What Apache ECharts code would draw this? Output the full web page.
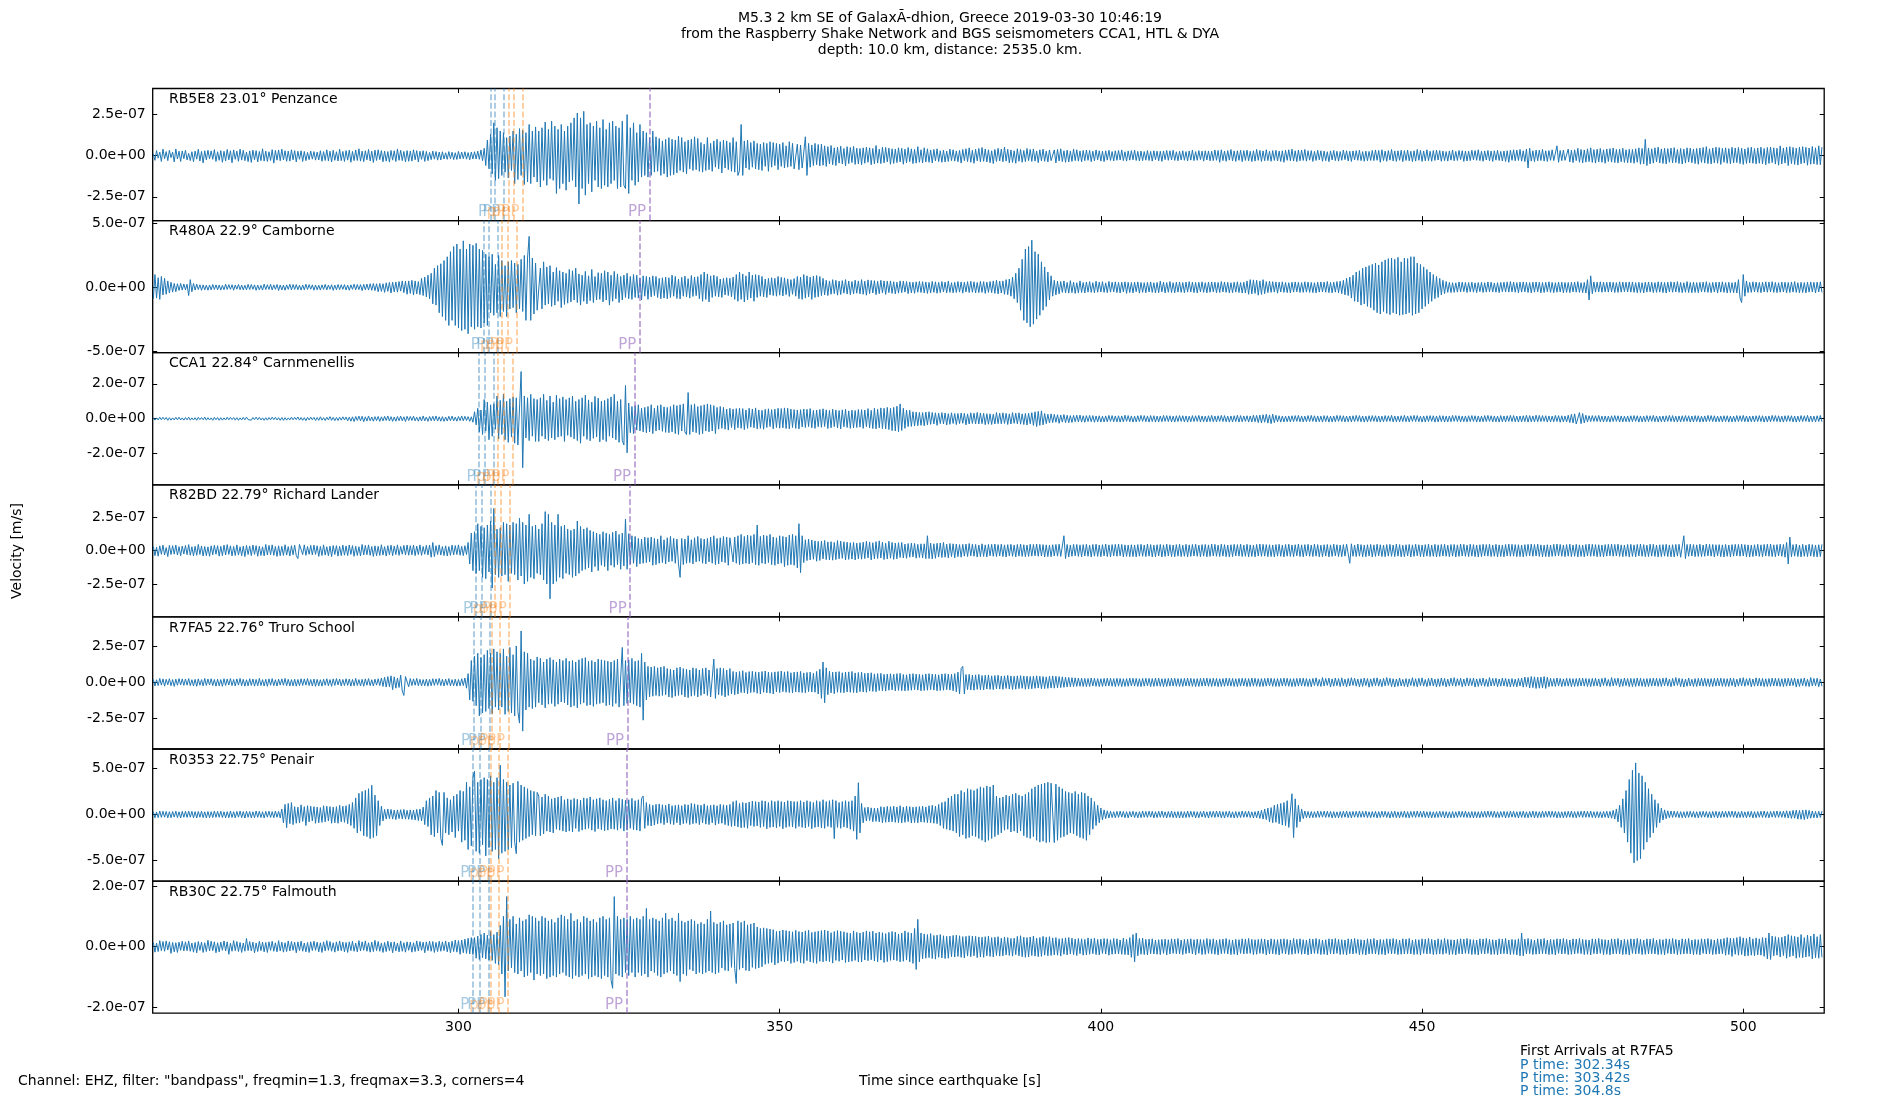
<!DOCTYPE html>
<html>
<head>
<meta charset="utf-8">
<script src="https://cdn.jsdelivr.net/npm/echarts@6/dist/echarts.min.js"></script>
<style>
  html, body { margin: 0; padding: 0; background: #fff; }
  #chart { width: 1900px; height: 1100px; }
</style>
</head>
<body>
<div id="chart"></div>
<script>
// station labels, top to bottom
const stations = [
  'RB5E8 23.01° Penzance',
  'R480A 22.9° Camborne',
  'CCA1 22.84° Carnmenellis',
  'R82BD 22.79° Richard Lander',
  'R7FA5 22.76° Truro School',
  'R0353 22.75° Penair',
  'RB30C 22.75° Falmouth',
];

// time axis
const X_MIN = 252.4, X_MAX = 512.6;
const X_TICKS = [300, 350, 400, 450, 500];
const T0 = 252.5, DT = 0.25;  // sample times of the traces below
const NM = 1e-9;              // traces are typed in nm/s

// y range and tick marks of each panel (m/s)
const yRanges = [
  [-3.95e-7, 4.09e-7],
  [-5.14e-7, 5.24e-7],
  [-3.78e-7, 3.78e-7],
  [-4.95e-7, 4.9e-7],
  [-4.58e-7, 4.5e-7],
  [-7.23e-7, 7.11e-7],
  [-2.19e-7, 2.16e-7],
];
const yTicks = [
  [-2.5e-7, 0, 2.5e-7],
  [-5e-7, 0, 5e-7],
  [-2e-7, 0, 2e-7],
  [-2.5e-7, 0, 2.5e-7],
  [-2.5e-7, 0, 2.5e-7],
  [-5e-7, 0, 5e-7],
  [-2e-7, 0, 2e-7],
];

// phase arrivals [s]
const pArrivals = [
  [304.98, 305.70, 307.07],
  [303.87, 304.72, 306.05],
  [303.22, 304.12, 305.52],
  [302.67, 303.66, 305.07],
  [302.34, 303.42, 304.80],
  [302.23, 303.33, 304.71],
  [302.23, 303.33, 304.71],
];
const pPArrivals = [
  [307.85, 308.57, 310.06],
  [306.80, 307.70, 309.05],
  [306.15, 307.10, 308.50],
  [305.60, 306.65, 308.05],
  [305.20, 306.39, 307.79],
  [305.10, 306.30, 307.70],
  [305.10, 306.30, 307.70],
];
const ppArrivals = [329.74, 328.24, 327.41, 326.73, 326.32, 326.18, 326.18];

const firstArrivals = ['P time: 302.34s', 'P time: 303.42s', 'P time: 304.8s'];

// velocity traces, nm/s, one value every 0.25 s, two lines = 10 s
const traceRB5E8 = [
  12,-28,31,-15,22,-35,40,-18,25,-30,33,-12,22,-38,41,-20,27,-35,29,-18,
  33,-26,14,-30,24,-36,28,-21,39,-32,26,-44,30,-25,33,-19,29,-22,37,-35,
  24,-28,31,-40,27,-32,38,-25,30,-43,35,-22,28,-34,40,-27,33,-30,22,-36,
  29,-41,34,-25,31,-38,26,-30,42,-33,28,-35,24,-29,37,-45,32,-27,35,-31,
  40,-26,30,-34,28,-33,36,-25,31,-38,27,-22,30,-35,26,-30,20,-24,28,-21,
  25,-27,22,-26,30,-34,25,-29,36,-31,27,-38,33,-28,24,-32,39,-30,26,-35,
  31,-27,34,-40,26,-30,35,-29,42,-33,28,-36,30,-25,38,-32,27,-41,34,-29,
  36,-24,31,-37,28,-33,25,-39,32,-27,30,-35,41,-28,33,-30,26,-38,31,-34,
  28,-33,36,-25,31,-38,27,-22,30,-35,26,-30,20,-24,28,-21,25,-27,22,-26,
  24,-20,18,-22,25,-19,21,-24,18,-23,26,-20,22,-18,24,-21,19,-25,22,-20,
  24,-20,28,-22,35,-30,45,-60,95,-80,130,-110,200,-150,170,-140,150,-120,140,-100,
  110,-135,120,-90,150,-170,130,-145,165,-120,155,-175,140,-160,190,-170,150,-130,175,-160,
  150,-190,170,-150,205,-180,160,-140,210,-150,180,-230,160,-200,190,-170,150,-210,180,-160,
  200,-150,230,-190,260,-294,230,-200,270,-240,190,-170,200,-220,180,-150,210,-190,170,-200,
  220,-180,160,-190,200,-170,210,-150,180,-200,170,-190,210,-180,-200,250,-230,170,-150,200,
  -180,140,-160,190,-130,150,-120,140,-130,110,-120,150,-100,115,-95,105,-120,90,-110,100,
  -130,110,-120,100,-115,95,-105,120,-90,110,-100,85,-110,95,-80,100,-90,115,-85,105,
  -95,80,-100,70,-90,110,-85,75,-95,90,-70,100,-80,85,-105,95,-75,90,-85,80,
  -95,110,-100,85,-120,-90,190,-120,90,-75,95,-85,80,-70,90,-80,75,-85,70,-90,
  80,-65,75,-95,85,-70,80,-60,75,-85,70,-65,80,-75,60,-70,85,-65,75,-80,
  -80,70,-85,65,-75,-80,115,-120,75,-70,65,-60,75,-55,68,-62,70,-58,60,-65,
  55,-50,62,-55,48,-60,52,-45,58,-50,44,-62,55,-48,50,-42,57,-53,46,-50,
  44,-55,48,-46,52,-40,48,-55,44,-50,62,-45,40,-48,52,-44,50,-38,46,-52,
  42,-47,40,-42,48,-38,45,-52,40,-44,50,-36,42,-48,38,-45,55,-40,36,-44,
  48,-38,42,-40,35,-44,38,-32,42,-36,30,-40,34,-38,28,-35,40,-30,36,-33,
  29,-37,32,-45,38,-30,42,-36,48,-40,33,-46,39,-31,44,-37,50,-34,41,-38,
  36,-43,30,-48,38,-35,45,-32,40,-37,52,-33,39,-44,35,-41,30,-46,42,-34,
  38,-40,32,-36,44,-30,38,-35,41,-33,29,-42,36,-31,40,-34,28,-38,35,-30,
  -40,35,-44,38,-32,42,-36,30,-40,34,-38,28,-35,40,-30,36,-33,29,-37,32,
  -30,34,-28,32,-36,27,-31,35,-25,30,-33,28,-36,30,-27,33,-29,25,-32,30,
  -28,32,-26,35,-30,24,-33,29,-27,31,-25,34,-29,26,-32,28,-30,25,-27,31,
  -29,26,-33,30,-25,28,-31,27,-35,29,-24,32,-28,30,-26,33,-29,24,-31,27,
  -26,30,-28,25,-32,29,-27,34,-30,25,-28,31,-24,28,-33,30,-26,29,-31,27,
  -30,35,-28,32,-40,36,-30,28,-34,31,-27,38,-32,29,-35,30,-28,33,-36,31,
  -29,34,-31,27,-36,30,-33,38,-28,32,-35,29,-31,36,-30,27,-34,31,-29,33,
  -32,28,-35,30,-40,33,-28,36,-31,40,-33,30,-36,34,-31,34,-29,38,-33,30,
  -27,31,-35,26,-29,33,-25,30,-34,28,-31,24,-36,29,-26,32,-30,27,-33,25,
  -28,34,-24,30,-32,27,-35,29,-26,31,-28,33,-30,25,-34,28,-31,26,-29,32,
  -30,35,-28,32,-40,36,-30,28,-34,31,-27,38,-32,29,-35,30,-28,33,-36,31,
  -29,34,-31,27,-36,30,-33,38,-28,32,-35,29,-31,36,-30,27,-34,31,-29,33,
  -26,31,-34,28,-30,25,-33,29,-27,35,-31,26,-29,32,-24,30,-35,28,-32,27,
  -30,33,-25,31,-28,36,-30,27,-34,29,-26,32,-31,28,-35,30,-27,33,-29,26,
  -32,28,-35,30,-40,33,-28,36,-31,34,-29,38,-33,30,-36,40,-75,45,-33,30,
  -36,34,-31,34,-29,38,-33,30,-35,31,-28,36,-30,-33,60,-40,32,-30,34,-28,
  -35,40,-38,33,-42,36,-30,45,-40,38,-44,35,-39,42,-36,48,-41,37,-45,40,
  -38,44,-40,36,-46,41,-35,43,-39,47,-42,38,-44,40,-37,45,-41,36,-43,39,
  -43,38,-46,42,-40,48,-52,44,-50,100,-60,47,-50,42,-45,48,-38,52,-44,41,
  -47,45,-50,43,-40,46,-44,49,-42,38,-47,44,-51,40,-45,48,-39,46,-43,41,
  -48,44,-52,46,-41,50,-45,55,-48,42,-50,47,-44,52,-46,49,-53,45,-40,48,
  -46,43,-49,51,-44,47,-42,50,-48,45,-53,41,-47,49,-44,52,-46,43,-50,47,
  -46,52,-49,44,-55,50,-47,53,-42,48,-51,45,-58,60,-50,47,-45,52,-60,55,
  -48,50,-53,46,-57,52,-49,55,-45,51,-58,47,-52,56,-50,48,-54,60,-55,52,
];
const traceR480A = [
  -90,100,-85,75,-95,85,-60,70,-55,50,-45,40,-38,30,-35,28,-25,30,-22,26,
  -20,24,-65,60,-35,30,-22,25,-18,20,-24,19,-21,17,-23,18,-20,22,-17,19,
  -20,18,-22,15,-19,24,-17,21,-16,20,-23,18,-15,22,-19,17,-21,16,-20,23,
  -18,22,-16,19,-24,17,-20,15,-22,25,-18,20,-17,23,-21,19,-16,22,-25,18,
  -21,17,-23,19,-16,24,-20,22,-17,21,-19,16,-22,18,-20,24,-17,21,-15,19,
  -23,18,-20,16,-22,19,-17,23,-21,18,-16,20,-24,17,-19,22,-18,20,-16,21,
  -21,17,-23,19,-16,24,-20,22,-18,21,-26,23,-20,25,-22,28,-24,30,-26,28,
  -35,30,-32,28,-40,35,-32,38,-45,40,-36,42,-38,45,-30,50,-42,48,-55,50,
  -48,55,-60,50,-52,45,-58,70,-65,80,-75,95,-90,110,-130,150,-140,170,-200,185,
  -230,210,-260,240,-300,280,-260,320,-300,340,-320,300,-340,365,-330,300,-365,340,-310,330,
  -330,345,-310,300,-320,290,-280,260,-300,240,-200,260,-220,180,-200,250,-230,210,-190,170,
  -230,200,-170,210,-160,190,-200,180,-170,220,-190,250,-260,230,400,-260,230,-210,190,-180,
  -180,150,-170,200,-140,160,-130,170,-150,120,-140,155,-110,130,-160,120,-135,110,-125,140,
  -115,130,-100,150,-120,105,-140,95,-110,125,-130,90,-105,140,-120,85,-100,115,-95,110,
  -115,130,-100,120,-140,95,-110,125,-90,105,-120,85,-100,95,-80,110,-90,85,-95,100,
  -80,95,-85,75,-100,90,-70,85,-95,80,-75,90,-65,85,-80,70,-90,75,-85,80,
  -90,75,-80,95,-70,85,-88,65,-92,78,-70,88,-75,68,-85,92,-72,80,-66,84,
  -90,100,-110,120,-95,105,-115,90,-80,95,-70,85,-75,65,-80,70,-60,75,-65,70,
  -75,80,-95,100,-110,120,-95,105,-115,90,-100,120,-85,95,-110,100,-80,95,-70,85,
  -75,65,-80,70,-60,75,-65,70,-70,85,-62,78,-68,74,-58,66,-72,60,-55,68,
  -70,85,-90,80,-95,100,-85,90,-75,80,-95,88,-80,92,-75,85,-65,70,-60,55,
  -65,50,-55,60,-50,55,-62,48,-57,52,-46,60,-53,49,-58,45,-52,56,-47,50,
  -52,60,-55,48,-62,58,-50,54,-45,52,-58,47,-50,55,-44,50,-56,48,-42,50,
  -48,44,-52,40,-46,50,-42,48,-38,45,-50,42,-44,40,-47,43,-39,46,-41,44,
  -45,42,-48,38,-44,46,-40,43,-47,39,-42,45,-37,41,-44,48,-40,36,-43,39,
  -41,45,-38,42,-46,40,-37,44,-41,47,-39,43,-45,38,-42,46,-40,44,-48,41,
  -40,45,-42,50,-48,55,-52,48,-45,50,-55,60,-58,65,-70,80,-90,110,-120,150,
  -180,220,-260,300,-280,320,-310,370,-290,280,-250,260,-220,200,-180,160,-150,120,-100,90,
  -70,55,-60,48,-52,45,-40,50,-44,38,-46,52,-42,40,-48,36,-44,50,-41,38,
  -45,42,-38,45,-40,36,-43,48,-39,41,-37,44,-40,35,-42,46,-38,40,-36,43,
  -42,38,-45,40,-36,43,-48,39,-41,37,-44,40,-35,42,-46,38,-40,36,-43,39,
  -37,42,-40,35,-45,38,-42,48,-36,40,-44,37,-39,45,-41,36,-43,40,-38,42,
  -40,37,-43,41,-38,44,-36,40,-42,38,-45,39,-37,43,-40,36,-44,41,-39,42,
  -36,40,-43,38,-41,45,-37,42,-40,39,-44,36,-42,40,-38,43,-41,37,-45,40,
  -45,50,-55,60,-52,58,-48,55,-62,50,-56,60,-50,45,-42,48,-40,44,-38,42,
  -46,40,-37,43,-40,38,-42,36,-44,40,-38,42,-36,39,-41,37,-40,43,-38,41,
  -40,38,-42,36,-44,40,-38,42,-37,41,-39,45,-42,38,-44,40,-38,45,-43,48,
  -50,55,-60,70,-65,80,-85,95,-110,120,-115,130,-140,150,-130,160,-150,170,-160,180,
  -180,190,-200,175,-210,200,-190,215,-205,225,-215,230,-200,220,-210,235,-220,200,-215,230,
  -210,225,-200,240,-220,240,-210,190,-200,180,-170,160,-150,140,-130,120,-110,100,-90,85,
  -80,70,-60,55,-50,45,-40,38,-42,36,-40,35,-38,42,-36,40,-34,38,-41,37,
  -36,40,-38,35,-42,37,-34,39,-41,36,-38,42,-35,40,-37,34,-39,36,-42,38,
  -35,40,-37,42,-38,45,-36,41,-39,37,-43,40,-38,42,-36,39,-41,37,-44,40,
  -38,42,-36,40,-44,37,-41,39,-35,43,-40,38,-42,36,-39,41,-37,40,-43,38,
  -40,37,-42,39,-36,41,-38,44,-40,36,-42,38,-45,60,-100,90,-50,42,-38,40,
  -37,43,-39,41,-36,40,-38,42,-36,39,-41,37,-40,43,-38,41,-35,40,-37,42,
  -38,42,-40,37,-43,39,-41,36,-44,40,-38,42,-36,39,-41,37,-40,43,-38,41,
  -42,38,-45,40,-36,43,-39,41,-37,44,-40,38,-42,36,-39,45,-41,37,-43,40,
  -40,37,-42,39,-36,41,-38,44,-40,36,-42,38,-37,40,-45,41,-38,43,-40,37,
  -44,39,-41,36,-43,40,-45,60,-85,-120,100,-70,50,-42,38,-40,43,-37,41,-39,
  38,-42,40,-37,43,-39,41,-36,44,-40,38,-42,36,-39,41,-37,40,-43,38,-41,
  42,-38,45,-40,36,-43,39,-41,37,-44,40,-38,42,-36,39,-45,41,-37,43,-40,
];
const traceCCA1 = [
  6,-8,5,-7,9,-6,8,-5,7,-9,6,-8,5,-7,8,-6,9,-7,5,-8,
  7,-6,9,-8,5,-7,6,-9,8,-5,7,-6,9,-8,6,-7,5,-9,8,-6,
  7,-9,6,-8,5,-7,9,-6,8,-5,7,-8,6,-9,5,-7,8,-6,9,-5,
  6,-8,7,-5,9,-6,8,-7,5,-9,6,-8,7,-6,9,-5,8,-7,6,-9,
  7,-9,6,-8,5,-7,9,-6,8,-5,10,-8,7,-9,6,-11,8,-7,9,-6,
  8,-10,7,-9,11,-8,6,-10,9,-7,12,-9,8,-11,7,-10,9,-8,11,-7,
  10,-12,9,-14,11,-16,13,-10,15,-12,14,-17,11,-13,16,-12,10,-14,12,-11,
  13,-15,11,-12,14,-10,16,-13,12,-15,10,-14,13,-11,15,-12,11,-16,14,-10,
  13,-10,15,-12,9,-14,11,-13,16,-12,10,-15,13,-11,14,-12,16,-13,11,-14,
  12,-15,10,-13,14,-11,15,-12,10,-14,13,-11,16,-12,14,-10,12,-15,11,-20,
  40,-35,60,-75,50,-90,110,-70,95,-120,80,-100,85,-60,130,-115,105,-90,140,-120,
  100,-135,115,-105,125,-140,120,-150,-160,270,-280,130,-110,120,-125,140,-100,115,-130,110,
  -130,120,-100,140,-115,105,-125,130,-110,95,-120,135,-105,115,-100,125,-130,110,-95,120,
  -105,130,-115,100,-125,110,-140,120,-100,135,-118,108,-126,95,-112,128,-104,118,-132,100,
  -120,105,-130,115,-100,125,-110,140,-120,100,-135,110,-125,-150,190,-195,90,-80,70,-85,
  75,-65,80,-70,60,-75,65,-80,70,-75,80,-85,60,-70,75,-65,80,-72,68,-78,
  65,-80,70,-75,80,-85,75,-90,80,-70,85,-75,-90,150,-90,80,-75,85,-80,70,
  -90,75,-85,80,-70,85,-75,80,-70,75,-85,65,-60,70,-55,65,-60,55,-65,60,
  -50,55,-62,58,-52,60,-55,58,-62,50,-55,60,-48,56,-52,62,-58,50,-55,48,
  -60,54,-50,57,-45,52,-58,55,-50,60,-54,58,-52,62,-56,60,-58,55,-50,52,
  -55,50,-58,52,-47,56,-50,54,-45,58,-52,48,-55,50,-46,53,-49,57,-44,51,
  -56,48,-52,55,-45,50,-53,47,-58,51,-46,54,-50,45,-55,49,-52,47,-50,53,
  -48,52,-55,50,-45,58,-52,48,-56,60,-58,54,-52,62,-56,60,-58,65,-62,60,
  -68,65,-70,72,-74,85,-67,60,-55,50,-45,48,-44,40,-42,38,-40,36,-38,35,
  -40,38,-35,40,-32,36,-30,34,-38,32,-28,35,-30,33,-36,29,-32,34,-27,30,
  -33,30,-28,33,-26,31,-35,28,-30,34,-27,32,-29,36,-30,33,-28,31,-34,29,
  -31,28,-33,26,-30,35,-28,32,-29,34,-27,31,-33,28,-30,35,-26,32,-29,34,
  -31,28,-33,30,-36,32,-29,35,-38,40,-45,42,-38,45,-35,30,-28,26,-24,28,
  -22,25,-20,23,-26,21,-19,24,-22,20,-23,18,-21,19,-17,20,-18,21,-19,17,
  -20,18,-16,19,-17,18,-20,16,-18,17,-19,15,-18,16,-17,19,-15,18,-17,16,
  -18,17,-19,16,-18,20,-15,18,-17,16,-19,15,-18,17,-16,19,-15,18,-17,16,
  -19,18,-16,17,-19,15,-18,16,-17,19,-15,18,-16,17,-18,15,-19,17,-16,18,
  -15,17,-18,16,-19,15,-17,18,-16,17,-15,19,-18,16,-17,15,-18,17,-16,19,
  -17,16,-18,17,-15,19,-16,18,-17,15,-19,16,-18,17,-16,20,-19,18,-17,16,
  -15,17,-19,16,-18,20,-17,19,-22,21,-24,23,-20,26,-25,22,-28,26,-22,20,
  -18,17,-19,16,-18,15,-17,16,-18,17,-16,18,-15,19,-17,16,-18,15,-17,18,
  -16,19,-15,17,-18,16,-17,15,-19,18,-16,17,-19,15,-18,16,-17,19,-15,18,
  -16,17,-18,15,-17,16,-18,17,-16,19,-15,18,-17,16,-19,15,-18,17,-16,18,
  -15,17,-18,16,-19,15,-17,18,-16,17,-15,19,-18,16,-17,15,-18,17,-16,19,
  -17,16,-18,17,-15,19,-16,18,-17,15,-19,16,-18,17,-16,18,-15,17,-19,16,
  -18,18,-16,17,-19,15,-18,16,-17,19,-15,18,-16,17,-18,15,-17,16,-18,17,
  -16,18,-15,17,-19,16,-18,15,-17,18,-16,19,-15,17,-18,16,-17,15,-19,18,
  -17,16,-18,17,-15,19,-16,18,-17,15,-19,16,-18,17,-16,20,-19,18,-17,16,
  -18,20,-17,19,-16,18,-15,17,-19,16,-18,15,-17,19,-16,18,-20,17,-18,16,
  -18,20,-22,25,-24,28,-30,-32,35,-28,30,-24,20,-18,17,-16,18,-15,17,-16,
  19,-17,15,-18,16,-17,15,-19,17,-16,18,-15,17,-19,16,-18,15,-17,16,-18,
  17,-16,18,-15,17,-19,16,-18,15,-17,18,-16,17,-15,19,-17,16,-18,15,-17,
  16,-18,17,-15,19,-16,18,-17,15,-19,16,-18,17,-16,18,-15,17,-19,16,-18,
  18,-16,17,-19,15,-18,16,-17,19,-15,18,-16,17,-18,15,-17,16,-18,17,-16,
  17,-19,16,-18,15,-17,18,-16,17,-15,19,-17,16,-18,15,-17,16,-18,17,-16,
  18,-16,17,-19,15,-18,16,-17,19,-15,18,-16,17,-18,15,-19,17,-16,18,-15,
  17,-18,16,-19,15,-17,18,-16,17,-15,19,-18,16,-17,15,-18,17,-16,19,-17,
];
const traceR82BD = [
  30,-38,25,-42,35,-28,40,-33,22,-45,38,-30,36,-27,41,-34,29,-39,33,-26,
  37,-31,44,-35,28,-40,32,-36,45,-29,34,-41,30,-38,27,-43,35,-32,39,-28,
  36,-42,31,-38,40,-33,44,-29,35,-40,30,-37,42,-34,28,-39,33,-45,37,-30,
  34,-38,41,-29,36,-43,32,-37,28,-40,45,-33,38,-31,42,-36,30,-44,35,-39,
  31,-37,43,-34,29,-41,36,-32,40,-38,-60,45,33,-30,42,-36,30,-28,38,-33,
  40,-29,35,-44,30,-37,42,-34,28,-39,33,-45,37,-30,36,-42,31,-38,40,-35,
  34,-38,41,-29,36,-43,32,-37,28,-40,45,-33,38,-31,42,-36,30,-44,35,-39,
  31,-37,43,-34,29,-41,36,-32,40,-38,33,-30,42,-36,30,-28,38,-33,41,-35,
  36,-32,40,-38,33,-30,42,-36,30,-28,38,-33,41,-50,60,-45,36,-30,42,-34,
  30,-38,35,-41,29,-36,40,-33,37,-30,42,-35,31,-38,36,-30,60,-100,130,-150,
  140,-170,200,-150,180,-200,170,-210,190,-160,220,-280,313,-180,160,-200,170,-190,210,-180,
  200,-230,190,-170,210,-180,200,-220,240,-190,210,-250,190,-230,270,-200,180,-210,190,-170,
  160,-180,200,-220,290,-250,270,-360,210,-250,190,-230,270,-200,180,-210,190,-170,160,-180,
  150,-200,160,-190,220,-170,180,-150,160,-140,170,-130,150,-160,140,-120,130,-150,120,-110,
  140,-120,130,-150,120,-110,135,-125,145,-105,120,-140,130,-115,235,-140,125,-100,110,-95,
  105,-120,90,-100,85,-95,100,-90,95,-85,100,-110,90,-105,85,-95,110,-90,80,-100,
  95,-85,105,-80,90,-95,85,-100,-200,90,-105,85,-95,110,-90,80,-100,95,-85,105,
  -80,90,-95,85,-100,90,-85,100,-95,110,-105,90,-100,95,-85,105,-90,100,-110,95,
  90,-85,100,-95,110,-105,120,-100,105,-95,115,-100,110,-90,120,-105,190,-110,105,-95,
  115,-100,110,-90,120,-105,100,-110,95,-100,110,-95,105,-120,100,-110,115,-105,120,-110,
  110,-130,200,-165,110,-90,80,-75,85,-70,78,-65,72,-80,68,-74,70,-62,75,-68,
  64,-70,66,-72,60,-68,74,-62,70,-58,65,-70,62,-66,58,-64,60,-70,55,-62,
  58,-65,62,-60,68,-55,64,-70,58,-62,66,-59,72,-56,61,-67,54,-63,69,-57,
  60,-66,55,-62,58,-52,60,-55,48,-58,52,-50,55,-48,53,-57,46,-52,50,-55,
  50,-60,110,-60,55,-62,50,-58,54,-48,56,-52,60,-50,47,-55,52,-45,50,-54,
  48,-46,44,-50,46,-42,48,-45,52,-40,47,-43,45,-49,41,-46,50,-44,42,-48,
  45,-40,46,-43,48,-45,44,-41,47,-45,42,-48,44,-40,46,-43,41,-47,45,-42,
  48,-44,43,-46,41,-44,47,-42,45,-40,48,-43,46,-41,44,-47,42,-45,40,-46,
  43,-41,45,-42,47,-44,-48,110,-60,45,-48,41,-43,46,-40,45,-44,42,-47,44,
  -41,46,-43,40,-48,45,-42,47,-44,41,-46,43,-40,48,-45,42,-47,44,-41,46,
  -43,48,-40,45,-47,42,-44,41,-46,43,-45,40,-47,44,-42,46,-43,41,-45,48,
  -42,44,-47,40,-46,43,-41,45,-48,42,-44,47,-40,43,-45,41,-46,44,-42,47,
  -45,40,-43,46,-48,42,-44,45,-41,47,-43,40,-46,44,-42,45,-47,42,-44,48,
  -41,46,-43,40,-45,47,-42,44,-46,41,-48,43,-45,46,-40,44,-42,47,-45,41,
  -43,46,-48,42,-44,40,-47,45,-41,48,-43,46,-42,44,-46,43,-45,41,-47,44,
  -42,46,-43,40,-48,45,-42,47,-44,41,-46,43,-40,48,-45,42,-47,44,-41,46,
  -43,41,-45,48,-42,44,-47,40,-46,43,-41,45,-48,42,-44,47,-40,43,-45,41,
  -46,44,-42,47,60,-95,50,-43,41,-45,48,-42,44,-47,40,-46,43,-41,45,-48,
  42,-44,47,-40,43,-45,41,-46,44,-42,46,-43,41,-45,48,-42,44,-47,40,-46,
  43,-41,45,-48,42,-44,47,-40,43,-45,41,-46,44,-42,47,-45,40,-43,46,-48,
  42,-44,45,-41,47,-43,40,-46,44,-42,45,-47,42,-44,48,-41,46,-43,40,-45,
  47,-42,44,-46,41,-48,43,-45,46,-40,44,-42,47,-45,41,-43,46,-48,42,-44,
  40,-47,45,-41,48,-43,46,-42,44,-46,43,-45,41,-47,44,-42,46,-40,48,-43,
  45,-41,47,-44,42,-46,40,-45,43,-47,41,-44,46,-42,48,-40,45,-43,41,-46,
  44,-42,47,-45,41,-43,46,-48,42,-44,40,-47,45,-41,48,-43,46,-42,44,-46,
  43,-45,41,-47,44,-42,46,-40,48,-43,45,-41,47,-44,42,-46,41,-43,45,-48,
  46,-44,42,-47,45,-41,48,-43,44,-46,40,-45,47,-42,46,-44,41,-48,43,-45,
  44,-42,46,-45,41,-47,43,-48,45,-42,46,-50,-60,110,-60,45,-43,47,-41,44,
  -46,42,-44,47,-45,41,-43,48,-40,46,-42,45,-47,43,-41,44,-46,42,-48,45,
  -43,41,-47,44,-42,46,-40,45,-43,47,-41,44,-46,42,-48,40,-45,43,-41,46,
  -44,42,-46,45,-41,47,-43,48,-45,42,-46,44,-40,47,-43,45,-50,60,-100,100,
  -46,44,-42,47,-45,41,-48,46,-43,40,-45,47,-42,44,-46,41,-48,43,-45,46,
];
const traceR7FA5 = [
  20,-25,18,-22,27,-19,24,-26,21,-17,25,-23,19,-28,22,-20,26,-18,24,-21,
  23,-19,26,-22,18,-25,21,-27,24,-20,19,-24,27,-21,23,-18,25,-22,20,-26,
  22,-24,19,-27,25,-21,23,-18,26,-22,20,-25,24,-19,27,-23,21,-26,18,-24,
  25,-21,23,-26,20,-24,27,-22,19,-25,21,-27,24,-20,26,-23,18,-25,22,-19,
  24,-20,27,-23,21,-25,19,-24,22,-26,20,-23,25,-21,24,-19,26,-22,20,-25,
  23,-27,21,-24,18,-26,22,-20,25,-23,19,-27,24,-21,26,-18,23,-25,20,-22,
  25,-21,23,-26,20,-24,27,-22,19,-25,21,-27,24,-20,26,-23,18,-25,22,-19,
  25,-22,30,-28,35,-32,40,-30,45,-50,38,-40,30,-35,50,-60,-90,40,35,-30,
  26,-22,24,-20,27,-23,21,-25,19,-24,22,-26,20,-23,25,-21,24,-19,27,-22,
  21,-25,23,-20,26,-24,19,-23,22,-26,20,-24,25,-22,30,-40,60,-120,150,-130,
  180,-160,200,-230,170,-210,190,-200,220,-180,200,-215,230,-170,210,-190,200,-170,230,-220,
  180,-200,240,-210,190,-230,250,-200,-280,353,-335,210,-190,200,-170,160,-180,150,-170,175,
  -140,165,-155,140,-175,160,-150,170,-145,155,-165,140,-150,160,-135,150,-140,165,-155,145,
  -170,150,-160,140,-175,155,-150,165,-140,170,-160,145,-155,150,-165,140,-150,160,-145,155,
  -140,150,-160,145,-155,140,-165,150,-145,160,-170,-180,240,-160,150,-145,155,-140,165,-150,
  145,-160,150,-170,200,-260,140,-120,110,-100,105,-95,110,-90,100,-95,105,-90,110,-85,
  95,-100,90,-105,85,-95,100,-90,105,-85,95,-100,90,-105,85,-95,100,-90,95,-100,
  85,-90,95,-80,100,-90,85,-100,-110,160,-110,95,-85,100,-90,95,-100,85,-90,95,
  -80,75,-85,70,-80,75,-70,80,-72,68,-78,74,-70,76,-68,72,-75,70,-80,74,
  -68,78,-72,70,-75,68,-80,72,-66,74,-70,78,-64,72,-68,75,-70,66,-72,70,
  -66,72,-68,75,-70,65,-72,68,-64,70,-66,62,-68,75,-80,90,-110,140,-140,100,
  -85,76,-72,70,-78,72,-68,74,-70,66,-72,70,-66,72,-68,75,-70,65,-72,68,
  -64,70,-66,62,-68,64,-60,66,-62,58,-64,60,-56,62,-58,55,-60,57,-54,59,
  -52,56,-58,60,-55,62,-57,54,-59,52,-56,58,-54,60,-50,57,-53,55,-58,52,
  -56,58,-54,60,-50,57,-53,55,-58,52,-56,58,-54,60,-50,57,-53,55,-58,60,
  -65,70,-80,95,110,-80,54,-50,55,-52,50,-54,52,-48,54,-50,47,-52,49,-46,
  51,-48,45,-50,47,-44,49,-46,43,-48,45,-42,48,-46,44,-49,42,-47,45,-43,
  46,-41,44,-47,42,-45,40,-44,43,-41,45,-39,42,-44,40,-43,38,-41,42,-39,
  44,-40,42,-38,40,-36,38,-34,36,-32,34,-30,32,-29,31,-28,30,-27,29,-28,
  27,-29,26,-28,30,-25,28,-27,26,-29,25,-28,27,-26,29,-25,28,-27,26,-29,
  28,-26,27,-29,25,-28,26,-27,29,-25,28,-26,27,-28,25,-29,27,-26,28,-25,
  27,-29,26,-28,30,-26,28,-27,25,-29,26,-28,27,-26,29,-25,28,-27,26,-28,
  26,-28,27,-25,29,-26,28,-27,25,-29,26,-28,27,-26,28,-25,29,-27,26,-28,
  28,-26,27,-29,25,-28,26,-27,29,-25,28,-26,27,-28,25,-29,27,-26,28,-25,
  27,-29,26,-28,30,-26,28,-27,25,-29,26,-28,27,-26,29,-25,28,-27,26,-28,
  26,-28,27,-25,29,-26,28,-27,25,-29,26,-28,27,-26,28,-25,29,-27,26,-28,
  24,-30,27,-22,31,-26,20,-28,33,-25,27,-21,29,-32,24,-27,30,-23,26,-29,
  31,-24,22,-30,27,-25,32,-21,28,-26,23,-31,25,-28,30,-22,26,-33,24,-27,
  29,-23,31,-26,22,-30,27,-24,33,-21,28,-29,25,-32,23,-27,30,-25,21,-28,
  26,-31,24,-22,32,-27,25,-30,28,-23,31,-26,20,-29,27,-24,30,-25,22,-31,
  25,-28,30,-23,27,-31,22,-26,29,-24,32,-27,25,-21,28,-30,23,-26,31,-25,
  27,-22,29,-32,24,-28,26,-23,30,-27,21,-29,33,-25,27,-24,28,-30,23,-26,
  30,-25,27,-29,24,-31,26,-28,22,-30,27,-25,29,-33,36,-30,34,-38,40,-36,
  38,-42,35,-40,36,-38,40,-42,35,-30,28,-27,26,-28,30,-25,27,-29,24,-26,
  28,-26,27,-29,25,-28,26,-27,29,-25,28,-26,27,-28,25,-29,27,-26,28,-25,
  24,-30,27,-22,31,-26,20,-28,33,-25,27,-21,29,-32,24,-27,30,-23,26,-29,
  27,-29,26,-28,30,-26,28,-27,25,-29,26,-28,27,-26,29,-25,28,-27,26,-28,
  29,-23,31,-26,22,-30,27,-24,33,-21,28,-29,25,-32,23,-27,30,-25,21,-28,
  26,-28,27,-25,29,-26,28,-27,25,-29,26,-28,27,-26,28,-25,29,-27,26,-28,
  25,-28,30,-23,27,-31,22,-26,29,-24,32,-27,25,-21,28,-30,23,-26,31,-25,
  28,-26,27,-29,25,-28,26,-27,29,-25,28,-26,27,-28,25,-29,27,-26,28,-25,
  27,-22,29,-32,24,-28,26,-23,30,-27,21,-29,33,-25,27,-24,28,-30,23,-26,
];
const traceR0353 = [
  30,-36,28,-34,38,-31,35,-29,33,-37,30,-35,32,-28,36,-33,29,-38,34,-30,
  35,-32,37,-29,34,-36,31,-38,33,-30,36,-34,29,-37,32,-35,30,-33,38,-31,
  34,-30,36,-33,29,-37,31,-35,38,-32,30,-36,33,-29,37,-34,31,-38,35,-30,
  32,-36,29,-34,37,-31,35,-33,30,-38,34,-29,36,-32,31,-35,38,-30,33,-37,
  60,-90,110,-143,120,-100,130,-110,85,-95,80,-90,105,-75,85,-120,95,-80,90,-70,
  85,-95,80,-90,75,-85,95,-80,90,-70,85,-95,80,-90,85,-95,100,-80,90,-85,
  95,-100,110,-120,130,-150,180,-200,230,-180,250,-230,262,-240,280,-262,317,-250,210,-230,
  150,-120,90,-70,55,-50,60,-45,55,-50,48,-55,50,-45,52,-48,55,-50,45,-52,
  50,-55,48,-60,55,-65,60,-70,80,-110,150,-130,180,-220,200,-240,260,-200,240,-260,
  -335,240,-200,180,-220,160,-190,200,-250,220,-180,260,-300,250,-280,350,-380,300,-340,400,
  470,-400,350,-420,380,-330,400,-450,380,-360,420,-400,350,-380,400,-480,535,-420,380,-400,
  350,-380,320,-360,340,-300,-425,360,-300,320,-280,300,-260,280,-240,260,-220,250,-230,240,
  200,-230,190,-210,220,-180,200,-190,170,-200,180,-160,190,-170,200,-180,160,-190,170,-180,
  160,-190,175,-150,165,-185,155,-170,180,-160,175,-150,190,-170,160,-185,170,-155,180,-165,
  160,-175,150,-170,165,-155,180,-160,150,-170,175,-150,165,-180,155,-170,160,-150,175,-165,
  150,-170,160,-180,175,200,-150,130,-120,110,-125,100,-115,110,-100,115,-95,105,-110,100,
  -90,115,-105,95,-110,100,-90,105,-115,95,-100,110,-95,105,-110,120,-100,115,-95,105,
  -110,100,-90,115,-105,95,-110,100,-90,105,-115,95,-100,110,-95,105,-110,100,-120,110,
  -130,140,-125,150,-135,120,-145,130,-140,125,-150,135,-120,145,-130,140,-125,135,-140,150,
  -130,145,-155,130,-140,150,-135,140,-145,150,-130,140,-155,135,-140,150,-130,145,-135,140,
  -150,140,-130,150,-140,135,-145,150,-130,140,-155,130,-140,150,-135,140,-145,160,-150,140,
  -130,150,-140,160,-262,150,-140,130,-150,140,-135,150,-145,140,-160,150,-180,200,-270,345,
  -200,120,-90,75,-70,80,-65,72,-78,70,-75,68,-80,85,-90,80,-85,88,-82,85,
  -80,90,-85,82,-88,95,-90,80,-85,90,-78,85,-92,80,-88,84,-90,86,-82,90,
  -85,82,-88,95,-90,100,-95,92,-100,110,-120,130,-150,140,-160,180,-170,200,-180,220,
  -200,220,-240,260,-220,240,-260,280,-250,270,-230,260,-240,280,-260,300,-280,290,-300,310,
  -280,300,-260,320,-240,200,-220,180,-200,190,-170,210,-160,200,-190,220,-180,230,-200,210,
  -180,200,-230,220,-250,240,-260,280,-240,300,-280,320,-300,330,-290,340,-305,350,-300,340,
  360,-305,330,-280,300,-250,280,-240,250,-220,240,-200,230,-210,250,-230,220,-250,240,-260,
  230,-280,200,-220,180,-160,140,-120,100,-90,70,-60,50,-45,40,-38,35,-33,30,-35,
  34,-31,36,-29,33,-35,30,-37,32,-28,35,-33,29,-36,31,-34,38,-30,33,-32,
  36,-29,34,-37,31,-33,35,-30,38,-32,29,-36,33,-31,37,-34,30,-35,32,-38,
  33,-36,30,-34,38,-31,35,-29,33,-37,30,-35,32,-28,36,-33,29,-38,34,-30,
  35,-32,37,-29,34,-36,31,-38,33,-30,36,-34,29,-37,32,-35,30,-33,38,-31,
  34,-30,36,-33,29,-37,31,-35,38,-42,45,-50,60,-55,70,-80,75,-90,100,-85,
  110,-100,120,-115,130,-120,150,-140,-160,225,-250,170,-140,100,-80,60,-45,38,-35,33,
  -36,32,-35,30,-33,37,-31,34,-29,36,-32,35,-30,33,-37,31,-34,29,-36,32,
  -33,35,-30,37,-34,31,-36,33,-29,35,-32,38,-31,34,-30,36,-33,30,-35,32,
  -30,34,-37,31,-33,36,-29,35,-32,30,-38,33,-31,36,-34,29,-35,32,-30,37,
  -34,31,-36,33,-30,35,-32,37,-29,34,-31,36,-33,30,-35,32,-37,29,-34,31,
  -32,35,-30,33,-36,31,-34,29,-37,32,-35,30,-33,36,-30,34,-31,36,-33,29,
  -35,32,-38,31,-34,30,-36,33,-30,35,-32,37,-29,34,-31,36,-33,30,-35,32,
  -30,34,-37,31,-33,36,-29,35,-32,30,-38,33,-31,36,-34,29,-35,32,-30,37,
  -36,32,-35,30,-33,37,-31,34,-29,36,-32,35,-30,33,-37,31,-34,29,-36,32,
  -33,35,-30,37,-34,31,-36,33,-29,35,-32,38,-31,34,-30,36,-33,30,-35,32,
  -34,30,-36,33,-31,35,-38,34,-40,45,-50,60,-80,100,-140,170,-200,260,-300,380,
  -420,480,-525,560,-500,450,-480,420,-380,350,-300,280,-250,220,-200,160,-140,120,-90,70,
  -60,50,-45,40,-35,38,-32,36,-30,33,-35,31,-34,30,-36,33,-31,35,-29,32,
  -34,30,-36,33,-31,35,-29,32,-34,30,-36,33,-31,35,-38,31,-33,36,-30,34,
  -32,35,-29,37,-31,34,-36,30,-33,35,-32,29,-36,33,-30,34,-37,31,-35,32,
  -30,35,-32,38,-34,31,-36,33,-29,35,-32,38,-31,34,-30,36,-33,40,-38,36,
  -42,45,-40,48,-50,44,-52,48,-55,50,-48,45,-40,38,-36,33,-38,35,-32,36,
];
const traceRB30C = [
  14,-18,12,-16,20,-13,17,-15,19,-11,16,-22,14,-17,13,-19,15,-12,18,-14,
  16,-13,19,-15,12,-18,14,-20,17,-12,15,-19,13,-16,21,-14,18,-13,16,-20,
  13,-17,15,-12,19,-14,16,-25,12,-15,20,-13,17,-16,14,-19,12,-15,27,-13,
  17,-14,15,-20,12,-16,18,-13,15,-17,14,-19,16,-12,18,-15,13,-17,20,-14,
  15,-18,13,-16,19,-14,17,-12,15,-20,16,-13,18,-15,12,-17,14,-19,16,-13,
  18,-12,15,-17,13,-19,16,-14,20,-12,17,-15,13,-18,16,-14,19,-13,15,-17,
  14,-19,16,-13,18,-15,12,-17,20,-14,16,-12,19,-15,13,-18,15,-16,21,-13,
  17,-15,12,-19,14,-16,18,-13,15,-20,16,-14,12,-17,19,-15,13,-18,16,-12,
  15,-18,13,-16,19,-14,17,-12,15,-20,16,-13,18,-15,17,-19,14,-16,18,-15,
  16,-13,19,-17,15,-20,18,-16,22,-18,20,-25,22,-20,25,-22,28,-24,30,-26,
  30,-38,35,-42,40,-36,45,-40,38,-44,50,-45,40,-55,48,-60,70,-90,100,-165,
  165,-80,90,-70,100,-85,75,-90,95,-80,85,-100,90,-95,105,-85,100,-110,95,-90,
  85,-95,100,-90,95,-105,85,-100,90,-95,80,-100,95,-90,105,-85,100,-95,90,-100,
  110,-105,85,-95,90,-100,80,-95,100,-90,95,-105,85,-100,90,-95,80,-100,95,-105,
  100,-95,90,-100,95,-110,-137,165,-90,100,-95,90,-100,95,-85,90,-95,100,-85,90,
  -100,95,-85,90,-95,100,-90,126,-100,90,-80,95,-85,90,-95,85,-100,95,-90,110,
  -85,90,-80,95,-90,85,-95,110,-115,85,-90,80,-95,85,-75,90,-80,85,-90,75,
  -85,80,-90,75,-85,90,-80,117,-85,80,-90,75,-85,80,-70,85,-78,72,-80,75,
  -68,78,-72,-121,85,-75,80,-70,85,-78,72,-80,75,-68,78,-72,65,-70,60,-66,
  62,-58,60,-55,58,-52,56,-60,50,-54,52,-48,55,-50,53,-47,51,-55,49,-52,
  54,-48,50,-53,48,-55,52,-46,54,-50,47,-52,49,-55,51,-48,53,-50,55,-47,
  52,-49,46,-54,50,-45,53,-48,51,-44,49,-52,46,-50,44,-48,52,-45,47,-50,
  45,-50,48,-44,52,-46,49,-43,51,-47,45,-50,48,-44,46,-52,43,-49,47,-45,
  50,-44,48,-46,42,-50,45,-48,52,-44,47,-50,45,-55,60,-75,90,-50,45,-40,
  42,-38,40,-36,43,-39,37,-41,38,-35,40,-37,36,-39,34,-38,35,-33,37,-34,
  38,-32,36,-35,33,-37,34,-31,36,-33,35,-30,34,-36,32,-34,31,-35,33,-30,
  35,-32,30,-34,31,-29,33,-31,28,-30,32,-27,30,-29,27,-31,28,-26,34,-30,
  36,-33,31,-35,30,-34,32,-29,35,-31,28,-33,30,-32,34,-28,31,-30,33,-29,
  29,-27,30,-28,26,-31,27,-25,29,-27,30,-24,28,-26,25,-29,27,-23,26,-28,
  24,-27,29,-25,26,-23,28,-26,24,-27,25,-22,27,-24,26,-28,23,-25,27,-24,
  26,-24,22,-25,28,-26,24,-27,30,-35,40,-50,45,-30,27,-25,28,-26,24,-27,
  25,-23,26,-24,22,-25,23,-26,24,-22,25,-27,23,-24,26,-22,25,-23,27,-24,
  22,-26,24,-23,25,-21,26,-24,23,-27,25,-22,24,-26,23,-25,27,-22,24,-23,
  26,-25,22,-27,24,-23,25,-22,27,-24,23,-26,22,-25,24,-27,23,-22,26,-24,
  25,-23,27,-22,24,-26,23,-25,24,-22,26,-23,25,-27,22,-24,26,-23,24,-25,
  23,-27,25,-22,26,-24,24,-26,22,-25,27,-23,24,-22,26,-25,23,-24,22,-27,
  26,-24,25,-22,27,-23,24,-26,22,-25,23,-27,26,-23,25,-24,27,-22,24,-26,
  23,-25,22,-27,26,-23,25,-24,27,-22,24,-26,23,-25,22,-27,26,-24,25,-23,
  27,-24,22,-26,24,-25,23,-27,26,-22,25,-24,27,-23,24,-26,22,-25,26,-24,
  25,-23,27,-24,22,-26,24,-25,23,-27,26,-22,25,-24,27,-23,24,-26,22,-25,
  26,-24,23,-25,27,-22,24,-26,23,-25,22,-27,24,-23,26,-24,25,-22,27,-23,
  24,-26,23,-25,22,-27,26,-23,25,-24,27,-22,24,-26,23,-25,22,-27,26,-24,
  25,-23,27,-24,22,-26,24,-25,23,-27,26,-30,45,-30,25,-24,27,-23,24,-26,
  22,-25,26,-24,25,-23,27,-24,22,-26,24,-25,23,-27,26,-22,25,-24,27,-23,
  24,-26,22,-25,26,-24,25,-22,27,-23,24,-26,23,-25,22,-27,26,-23,25,-24,
  27,-22,24,-26,23,-25,22,-27,26,-24,25,-23,27,-24,22,-26,24,-25,23,-27,
  26,-22,25,-24,27,-23,24,-26,22,-25,26,-24,25,-23,27,-24,22,-26,24,-25,
  23,-27,26,-22,25,-24,27,-23,24,-26,22,-25,26,-24,25,-23,27,-24,22,-26,
  24,-25,23,-27,26,-22,25,-24,27,-23,24,-26,22,-25,26,-24,25,-23,27,-28,
  30,-26,28,-32,27,-25,30,-28,33,-26,29,-31,27,-30,32,-28,26,-30,29,-27,
  26,-28,30,-32,29,-40,45,-42,35,-30,33,-28,30,-34,31,-29,35,-38,40,-33,
  36,-30,34,-38,32,-35,40,-36,30,-34,38,-32,35,-40,42,-36,33,-38,40,-35,
];
const traces = [traceRB5E8, traceR480A, traceCCA1, traceR82BD, traceR7FA5, traceR0353, traceRB30C];

// layout (px)
const FONT = 'DejaVu Sans';
const PLOT_LEFT = 152.7, PLOT_W = 1671.5, PLOT_TOP = 88.5, PANEL_H = 132.1;

const C_TRACE = '#1f77b4';
const C_P = 'rgba(31,119,180,0.5)';
const C_DEPTH = 'rgba(255,127,14,0.5)';
const C_PP = 'rgba(148,103,189,0.75)';

function sciFmt(v) {
  if (v === 0) return '0.0e+00';
  const parts = v.toExponential(1).split('e');
  const n = parseInt(parts[1], 10);
  return parts[0] + 'e' + (n < 0 ? '-' : '+') + String(Math.abs(n)).padStart(2, '0');
}

const grids = [], xAxes = [], yAxes = [], series = [], graphics = [];

stations.forEach((name, i) => {
  const last = i === stations.length - 1;
  const top = PLOT_TOP + i * PANEL_H;
  grids.push({
    left: PLOT_LEFT, width: PLOT_W, top: top, height: PANEL_H,
    show: true, borderColor: '#000', borderWidth: 1.3, backgroundColor: 'transparent',
  });
  const tick = { show: true, inside: true, length: 4.5, lineStyle: { color: '#000', width: 1 } };
  const noLine = { show: false, onZero: false };
  xAxes.push({
    type: 'value', gridIndex: i, position: 'bottom', min: X_MIN, max: X_MAX,
    axisLine: noLine, splitLine: { show: false },
    axisTick: Object.assign({ customValues: X_TICKS }, tick),
    axisLabel: { show: last, customValues: X_TICKS, color: '#000', fontSize: 14, fontFamily: FONT, margin: 7 },
  });
  xAxes.push({
    type: 'value', gridIndex: i, position: 'top', min: X_MIN, max: X_MAX,
    axisLine: noLine, splitLine: { show: false },
    axisTick: Object.assign({ customValues: X_TICKS }, tick),
    axisLabel: { show: false },
  });
  const [yMin, yMax] = yRanges[i];
  yAxes.push({
    type: 'value', gridIndex: i, position: 'left', min: yMin, max: yMax,
    axisLine: noLine, splitLine: { show: false },
    axisTick: Object.assign({ customValues: yTicks[i] }, tick),
    axisLabel: { customValues: yTicks[i], formatter: sciFmt, color: '#000', fontSize: 14, fontFamily: FONT, margin: 7 },
  });
  yAxes.push({
    type: 'value', gridIndex: i, position: 'right', min: yMin, max: yMax,
    axisLine: noLine, splitLine: { show: false },
    axisTick: Object.assign({ customValues: yTicks[i] }, tick),
    axisLabel: { show: false },
  });

  const dash = [6, 2.6];
  const lines = [];
  pArrivals[i].forEach(t => lines.push({ xAxis: t, lineStyle: { color: C_P, width: 1.5, type: dash } }));
  pPArrivals[i].forEach(t => lines.push({ xAxis: t, lineStyle: { color: C_DEPTH, width: 1.5, type: dash } }));
  lines.push({ xAxis: ppArrivals[i], lineStyle: { color: C_PP, width: 1.5, type: dash } });

  series.push({
    name: name, type: 'line', xAxisIndex: 2 * i, yAxisIndex: 2 * i,
    data: traces[i].map((v, k) => [T0 + k * DT, v * NM]),
    showSymbol: false, symbol: 'none', lineStyle: { color: C_TRACE, width: 1 },
    silent: true, clip: true,
    markLine: { silent: true, symbol: ['none', 'none'], label: { show: false }, data: lines },
  });

  const labels = [];
  pArrivals[i].forEach(t => labels.push({ value: [t, yMin], label: { formatter: 'P', color: C_P } }));
  pPArrivals[i].forEach(t => labels.push({ value: [t, yMin], label: { formatter: 'pP', color: C_DEPTH } }));
  labels.push({ value: [ppArrivals[i], yMin], label: { formatter: 'PP', color: C_PP } });
  series.push({
    type: 'scatter', xAxisIndex: 2 * i, yAxisIndex: 2 * i, data: labels,
    symbolSize: 1, itemStyle: { color: 'rgba(0,0,0,0)' }, clip: false, silent: true, z: 5,
    label: { show: true, position: 'left', distance: 3, offset: [0, -8], fontSize: 15, fontFamily: FONT },
  });

  graphics.push({
    type: 'text', x: 169, y: top + 11,
    style: { text: name, fill: '#000', fontSize: 14, fontFamily: FONT, align: 'left', verticalAlign: 'middle' },
  });
});

const titleLines = [
  'M5.3 2 km SE of GalaxÃ-dhion, Greece 2019-03-30 10:46:19',
  'from the Raspberry Shake Network and BGS seismometers CCA1, HTL & DYA',
  'depth: 10.0 km, distance: 2535.0 km.',
];
titleLines.forEach((t, k) => graphics.push({
  type: 'text', x: 950, y: 18 + 16 * k,
  style: { text: t, fill: '#000', fontSize: 14, fontFamily: FONT, align: 'center', verticalAlign: 'middle' },
}));

graphics.push({
  type: 'text', x: 17, y: 551, rotation: Math.PI / 2,
  style: { text: 'Velocity [m/s]', fill: '#000', fontSize: 14, fontFamily: FONT, align: 'center', verticalAlign: 'middle' },
});
graphics.push({
  type: 'text', x: 18, y: 1081,
  style: { text: 'Channel: EHZ, filter: "bandpass", freqmin=1.3, freqmax=3.3, corners=4', fill: '#000', fontSize: 14, fontFamily: FONT, align: 'left', verticalAlign: 'middle' },
});
graphics.push({
  type: 'text', x: 950, y: 1081,
  style: { text: 'Time since earthquake [s]', fill: '#000', fontSize: 14, fontFamily: FONT, align: 'center', verticalAlign: 'middle' },
});
graphics.push({
  type: 'text', x: 1520, y: 1051,
  style: { text: 'First Arrivals at R7FA5', fill: '#000', fontSize: 14, fontFamily: FONT, align: 'left', verticalAlign: 'middle' },
});
firstArrivals.forEach((t, k) => graphics.push({
  type: 'text', x: 1520, y: 1065 + 13.3 * k,
  style: { text: t, fill: C_TRACE, fontSize: 14, fontFamily: FONT, align: 'left', verticalAlign: 'middle' },
}));

const chart = echarts.init(document.getElementById('chart'), null, { renderer: 'canvas' });
chart.setOption({
  animation: false,
  backgroundColor: '#fff',
  textStyle: { fontFamily: FONT },
  grid: grids,
  xAxis: xAxes,
  yAxis: yAxes,
  series: series,
  graphic: graphics,
});
</script>
</body>
</html>
